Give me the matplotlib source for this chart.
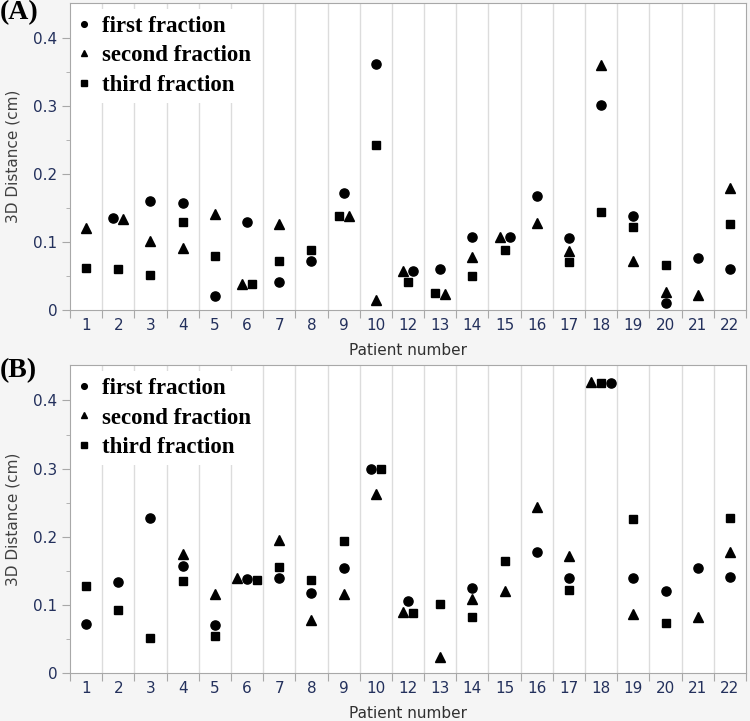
import numpy as np
import matplotlib
matplotlib.use("Agg")
import matplotlib.pyplot as plt

nan = np.nan

patients = ["1", "2", "3", "4", "5", "6", "7", "8", "9", "10", "12",
            "13", "14", "15", "16", "17", "18", "19", "20", "21", "22"]
series_names = ["first fraction", "second fraction", "third fraction"]

# panel (A)
a_first = [nan, 0.135, 0.160, 0.157, 0.020, 0.130, 0.041, 0.072, 0.172, 0.362, 0.057,
           0.061, 0.108, 0.107, 0.168, 0.106, 0.302, 0.139, 0.010, 0.076, 0.061]
a_second = [0.120, 0.134, 0.101, 0.092, 0.142, 0.039, 0.126, nan, 0.138, 0.015, 0.058,
            0.024, 0.078, 0.108, 0.128, 0.087, 0.361, 0.072, 0.026, 0.022, 0.180]
a_third = [0.062, 0.061, 0.051, 0.130, 0.079, 0.038, 0.072, 0.089, 0.139, 0.243, 0.041,
           0.025, 0.050, 0.088, nan, 0.071, 0.145, 0.122, 0.066, nan, 0.127]

# panel (B)
b_first = [0.072, 0.134, 0.227, 0.157, 0.070, 0.138, 0.140, 0.117, 0.154, 0.300, 0.105,
           nan, 0.125, nan, 0.178, 0.139, 0.425, 0.140, 0.121, 0.154, 0.141]
b_second = [nan, nan, nan, 0.174, 0.116, 0.139, 0.195, 0.078, 0.116, 0.263, 0.089,
            0.023, 0.108, 0.120, 0.244, 0.172, 0.427, 0.086, nan, 0.082, 0.178]
b_third = [0.127, 0.093, 0.051, 0.135, 0.054, 0.137, 0.156, 0.137, 0.194, 0.299, 0.088,
           0.101, 0.082, 0.165, nan, 0.122, 0.426, 0.226, 0.073, nan, 0.227]

markers = ["o", "^", "s"]
msizes = [6.6, 7.2, 6.0]
tick_col = "#23305c"
spine_col = "#a8a8a8"


def jitter(series, thr=0.012, step=0.31):
    # spread points of one category sideways when they would overlap
    vals = np.array(series, dtype=float)
    offs = np.zeros_like(vals)
    for c in range(vals.shape[1]):
        idx = [i for i in range(vals.shape[0]) if not np.isnan(vals[i, c])]
        idx.sort(key=lambda i: -vals[i, c])
        groups = []
        for i in idx:
            if groups and vals[groups[-1][-1], c] - vals[i, c] < thr:
                groups[-1].append(i)
            else:
                groups.append([i])
        for g in groups:
            n = len(g)
            for k, i in enumerate(g):
                offs[i, c] = (k - (n - 1) / 2) * step
    return offs


def panel(ax, series):
    n = len(patients)
    x = np.arange(n)
    offs = jitter(series)
    for b in np.arange(0.5, n - 1, 1.0):
        ax.axvline(b, color="#dcdcdc", lw=1.0, zorder=0.5)
    for i, s in enumerate(series):
        ax.plot(x + offs[i], s, linestyle="none", marker=markers[i], ms=msizes[i],
                color="black", label=series_names[i], zorder=3)
    ax.set_xlim(-0.5, n - 0.5)
    ax.set_ylim(0, 0.452)
    ax.set_xticks(np.arange(-0.5, n, 1.0))
    ax.set_xticklabels([])
    ax.set_xticks(x, minor=True)
    ax.set_xticklabels(patients, minor=True)
    ax.tick_params(axis="x", which="major", length=6, color=spine_col)
    ax.tick_params(axis="x", which="minor", length=0, pad=6, labelsize=11, labelcolor=tick_col)
    ax.set_yticks([0, 0.1, 0.2, 0.3, 0.4])
    ax.set_yticklabels(["0", "0.1", "0.2", "0.3", "0.4"])
    ax.set_yticks([0.05, 0.15, 0.25, 0.35], minor=True)
    ax.tick_params(axis="y", which="major", length=6, color=spine_col, labelsize=11,
                   labelcolor=tick_col, pad=3)
    ax.tick_params(axis="y", which="minor", length=3, color=spine_col)
    for sp in ax.spines.values():
        sp.set_color(spine_col)
    ax.set_ylabel("3D Distance (cm)", fontsize=11, color="#404040", labelpad=9)
    ax.set_xlabel("Patient number", fontsize=11, color="#303030", labelpad=7)
    leg = ax.legend(loc="upper left", bbox_to_anchor=(0.0, 0.987), frameon=True,
                    prop={"family": "Liberation Serif", "weight": "bold", "size": 16.5},
                    markerscale=0.62, handlelength=0.45, handletextpad=0.55,
                    labelspacing=0.36, borderpad=0.3, borderaxespad=0.1)
    leg.get_frame().set_facecolor("white")
    leg.get_frame().set_edgecolor("none")
    leg.get_frame().set_alpha(1.0)


fig = plt.figure(figsize=(7.5, 7.21), dpi=100, facecolor="#f5f5f5")
ax1 = fig.add_axes([70 / 750, 1 - 310 / 721, 676 / 750, 307 / 721])
ax2 = fig.add_axes([70 / 750, 1 - 673 / 721, 676 / 750, 308 / 721])
panel(ax1, [a_first, a_second, a_third])
panel(ax2, [b_first, b_second, b_third])

fig.text(0.0, 1.0, "(A)", family="Liberation Serif", weight="bold", fontsize=20,
         ha="left", va="top")
fig.text(0.0, 1 - 358 / 721, "(B)", family="Liberation Serif", weight="bold", fontsize=20,
         ha="left", va="top")

fig.savefig("out.png", dpi=100, facecolor=fig.get_facecolor())
